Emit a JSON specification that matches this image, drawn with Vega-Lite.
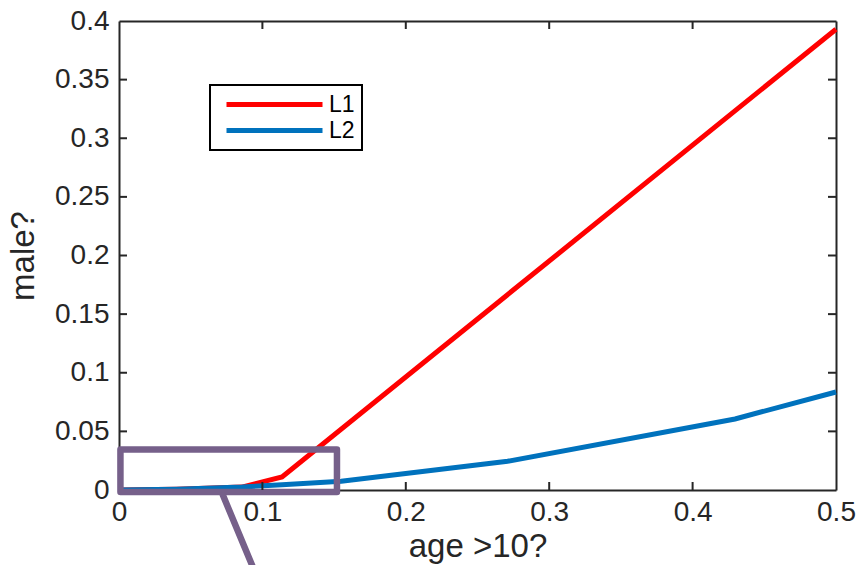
{
  "$schema": "https://vega.github.io/schema/vega-lite/v6.json",
  "width": 717,
  "height": 469,
  "autosize": {"type": "none"},
  "padding": {"left": 119, "top": 21, "right": 24, "bottom": 75},
  "background": "white",
  "config": {
    "view": {"stroke": null},
    "font": "Liberation Sans",
    "axis": {
      "grid": false,
      "ticks": false,
      "labelFont": "Liberation Sans",
      "labelFontSize": 28,
      "labelColor": "#262626",
      "titleFont": "Liberation Sans",
      "titleFontSize": 33,
      "titleFontWeight": "normal",
      "titleColor": "#262626",
      "domainColor": "#262626",
      "domainWidth": 2
    }
  },
  "resolve": {"axis": {"x": "independent", "y": "independent"}},
  "layer": [
    {
      "data": {"values": [
        {"series": "L1", "fpr": 0, "tpr": 0},
        {"series": "L1", "fpr": 0.04, "tpr": 0.0007},
        {"series": "L1", "fpr": 0.0857, "tpr": 0.0025},
        {"series": "L1", "fpr": 0.1137, "tpr": 0.0111},
        {"series": "L1", "fpr": 0.5, "tpr": 0.393},
        {"series": "L2", "fpr": 0, "tpr": 0},
        {"series": "L2", "fpr": 0.04, "tpr": 0.0007},
        {"series": "L2", "fpr": 0.0857, "tpr": 0.0025},
        {"series": "L2", "fpr": 0.1137, "tpr": 0.0045},
        {"series": "L2", "fpr": 0.155, "tpr": 0.0075},
        {"series": "L2", "fpr": 0.271, "tpr": 0.0245},
        {"series": "L2", "fpr": 0.4296, "tpr": 0.0606},
        {"series": "L2", "fpr": 0.5, "tpr": 0.0836}
      ]},
      "mark": {"type": "line", "strokeWidth": 5, "clip": false},
      "encoding": {
        "x": {
          "field": "fpr", "type": "quantitative",
          "scale": {"domain": [0, 0.5], "nice": false, "zero": false},
          "axis": {"orient": "bottom", "title": "age >10?", "values": [0, 0.1, 0.2, 0.3, 0.4, 0.5], "format": "~g", "labelPadding": 8, "titlePadding": 4, "labelFlush": false}
        },
        "y": {
          "field": "tpr", "type": "quantitative",
          "scale": {"domain": [0, 0.4], "nice": false, "zero": false},
          "axis": {"orient": "left", "title": "male?", "values": [0, 0.05, 0.1, 0.15, 0.2, 0.25, 0.3, 0.35, 0.4], "format": "~g", "labelPadding": 10, "titlePadding": 14, "labelFlush": false}
        },
        "color": {
          "field": "series", "type": "nominal",
          "scale": {"domain": ["L1", "L2"], "range": ["#FF0000", "#0072BD"]},
          "legend": {
            "title": null,
            "orient": "none",
            "legendX": 91,
            "legendY": 64,
            "padding": 7,
            "strokeColor": "#000000",
            "fillColor": "white",
            "symbolType": "M-4.8,0H4.8",
            "symbolSize": 400,
            "symbolStrokeWidth": 5,
            "symbolOffset": 45,
            "labelOffset": 42,
            "labelFont": "Liberation Sans",
            "labelFontSize": 23,
            "labelColor": "#000000",
            "rowPadding": 1,
            "labelExpr": "datum.label + '\u00a0\u00a0'",
            "encode": {"legend": {"update": {"strokeWidth": {"value": 2}}}}
          }
        }
      }
    },
    {
      "data": {"values": [{"x0": 0.001, "x1": 0.152, "y0": -0.0017, "y1": 0.0345}]},
      "mark": {"type": "rect", "fill": null, "fillOpacity": 0, "stroke": "#76608A", "strokeWidth": 6.5, "strokeJoin": "round", "clip": false},
      "encoding": {
        "x": {"field": "x0", "type": "quantitative", "axis": {"orient": "top", "offset": -469, "domain": false, "labels": false, "title": null, "values": [0, 0.1, 0.2, 0.3, 0.4, 0.5]}},
        "x2": {"field": "x1"},
        "y": {"field": "y0", "type": "quantitative", "axis": {"orient": "right", "offset": -717, "domain": false, "labels": false, "title": null, "values": [0, 0.05, 0.1, 0.15, 0.2, 0.25, 0.3, 0.35, 0.4]}},
        "y2": {"field": "y1"}
      }
    },
    {
      "data": {"values": [{"x0": 0.0725, "x1": 0.0965, "y0": -0.0045, "y1": -0.075}]},
      "mark": {"type": "rule", "stroke": "#76608A", "strokeWidth": 6.5, "strokeCap": "round", "clip": false},
      "encoding": {
        "x": {"field": "x0", "type": "quantitative", "axis": {"orient": "bottom", "offset": -469, "domain": true, "labels": false, "title": null, "values": [0, 0.1, 0.2, 0.3, 0.4, 0.5]}},
        "x2": {"field": "x1"},
        "y": {"field": "y0", "type": "quantitative", "axis": {"orient": "left", "offset": -717, "domain": true, "labels": false, "title": null, "values": [0, 0.05, 0.1, 0.15, 0.2, 0.25, 0.3, 0.35, 0.4]}},
        "y2": {"field": "y1"}
      }
    },
    {
      "data": {"values": [{"v": 0.1, "e": 0}, {"v": 0.2, "e": 0}, {"v": 0.3, "e": 0}, {"v": 0.4, "e": 0}, {"v": 0.1, "e": 0.4}, {"v": 0.2, "e": 0.4}, {"v": 0.3, "e": 0.4}, {"v": 0.4, "e": 0.4}]},
      "mark": {"type": "tick", "orient": "vertical", "size": 16, "thickness": 2, "color": "#262626", "opacity": 1, "clip": true},
      "encoding": {
        "x": {"field": "v", "type": "quantitative", "axis": null},
        "y": {"field": "e", "type": "quantitative", "axis": null}
      }
    },
    {
      "data": {"values": [{"v": 0.05, "e": 0}, {"v": 0.1, "e": 0}, {"v": 0.15, "e": 0}, {"v": 0.2, "e": 0}, {"v": 0.25, "e": 0}, {"v": 0.3, "e": 0}, {"v": 0.35, "e": 0}, {"v": 0.05, "e": 0.5}, {"v": 0.1, "e": 0.5}, {"v": 0.15, "e": 0.5}, {"v": 0.2, "e": 0.5}, {"v": 0.25, "e": 0.5}, {"v": 0.3, "e": 0.5}, {"v": 0.35, "e": 0.5}]},
      "mark": {"type": "tick", "orient": "horizontal", "size": 16, "thickness": 2, "color": "#262626", "opacity": 1, "clip": true},
      "encoding": {
        "x": {"field": "e", "type": "quantitative", "axis": null},
        "y": {"field": "v", "type": "quantitative", "axis": null}
      }
    }
  ]
}
